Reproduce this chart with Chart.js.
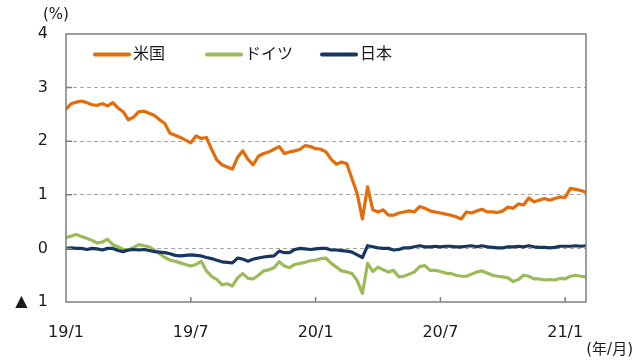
<!DOCTYPE html>
<html>
<head>
<meta charset="utf-8">
<script src="https://cdn.jsdelivr.net/npm/chart.js@4.4.0/dist/chart.umd.min.js"></script>
<style>
  html, body { margin: 0; padding: 0; background: #fff; }
  #wrap { width: 640px; height: 364px; }
</style>
</head>
<body>
<div id="wrap"><canvas id="chartYield"></canvas></div>
<script>
// 10年国債利回り, 2019/1 - 2021/2 (週次で読み取り)
const seriesLabels = ['米国', 'ドイツ', '日本'];
const seriesColors = ['#E46C0A', '#9BBB59', '#17375E'];
const stepMonths = 0.25; // 0 = 19/1
const xTickMonths = [0, 6, 12, 18, 24];
const xTickLabels = ['19/1', '19/7', '20/1', '20/7', '21/1'];
const yTicks = [-1, 0, 1, 2, 3, 4];

const usYield = [
  2.60, 2.70, 2.73, 2.75, 2.72, 2.68, 2.67, 2.70, 2.66, 2.72,
  2.62, 2.55, 2.40, 2.45, 2.55, 2.56, 2.52, 2.48, 2.40, 2.33,
  2.15, 2.11, 2.07, 2.02, 1.97, 2.10, 2.05, 2.07, 1.85, 1.65,
  1.56, 1.52, 1.48, 1.70, 1.82, 1.66, 1.56, 1.72, 1.77, 1.80,
  1.85, 1.90, 1.77, 1.80, 1.82, 1.85, 1.92, 1.90, 1.86, 1.85,
  1.80, 1.66, 1.57, 1.61, 1.58, 1.30, 1.02, 0.55, 1.15, 0.72,
  0.68, 0.72, 0.62, 0.62, 0.66, 0.68, 0.70, 0.68, 0.78, 0.75,
  0.70, 0.68, 0.66, 0.64, 0.62, 0.59, 0.55, 0.68, 0.66, 0.70,
  0.73, 0.68, 0.68, 0.67, 0.70, 0.77, 0.75, 0.83, 0.81, 0.94,
  0.87, 0.90, 0.93, 0.90, 0.93, 0.96, 0.95, 1.12, 1.10, 1.08,
  1.05
];
const deYield = [
  0.20, 0.23, 0.26, 0.22, 0.19, 0.15, 0.10, 0.12, 0.17, 0.07,
  0.03, -0.02, -0.03, 0.02, 0.07, 0.05, 0.03, -0.03, -0.10, -0.17,
  -0.22, -0.24, -0.27, -0.30, -0.33, -0.30, -0.24, -0.42, -0.52, -0.58,
  -0.68, -0.66, -0.70, -0.55, -0.47, -0.56, -0.57, -0.50, -0.42, -0.40,
  -0.36, -0.25, -0.33, -0.36, -0.30, -0.28, -0.26, -0.23, -0.22, -0.19,
  -0.18, -0.28, -0.35, -0.42, -0.44, -0.47, -0.60, -0.84, -0.28, -0.43,
  -0.35, -0.40, -0.44, -0.41, -0.53, -0.52, -0.48, -0.44, -0.34, -0.32,
  -0.41, -0.41, -0.43, -0.46, -0.47, -0.50, -0.52, -0.52, -0.48, -0.44,
  -0.42, -0.46, -0.50, -0.52, -0.53, -0.55, -0.62, -0.58, -0.50, -0.52,
  -0.57, -0.57, -0.59, -0.58, -0.59, -0.56, -0.57, -0.52, -0.50, -0.52,
  -0.53
];
const jpYield = [
  0.00, 0.01, 0.00, 0.00, -0.02, 0.00, -0.01, -0.03, 0.00, 0.00,
  -0.04, -0.06, -0.03, -0.02, -0.03, -0.02, -0.04, -0.06, -0.07, -0.08,
  -0.10, -0.13, -0.14, -0.13, -0.12, -0.13, -0.14, -0.17, -0.19, -0.22,
  -0.25, -0.26, -0.27, -0.18, -0.20, -0.24, -0.20, -0.18, -0.16, -0.15,
  -0.14, -0.05, -0.08, -0.08, -0.02, 0.00, -0.01, -0.02, -0.01, 0.00,
  0.00, -0.03, -0.03, -0.04, -0.05, -0.07, -0.12, -0.17, 0.05, 0.03,
  0.01, 0.00, 0.00, -0.03, -0.02, 0.01, 0.01, 0.03, 0.05, 0.03,
  0.03, 0.04, 0.03, 0.04, 0.04, 0.03, 0.03, 0.04, 0.05, 0.03,
  0.05, 0.03, 0.02, 0.01, 0.01, 0.03, 0.03, 0.04, 0.03, 0.05,
  0.03, 0.02, 0.02, 0.01, 0.02, 0.04, 0.04, 0.04, 0.05, 0.04,
  0.05
];

function toPoints(values) {
  return values.map((v, i) => ({ x: i * stepMonths, y: v }));
}

const fontFamily = '"DejaVu Sans", "Noto Sans CJK JP", sans-serif';

// 枠線・目盛り・凡例・単位を描く
const framePlugin = {
  id: 'frame',
  afterDraw(chart) {
    const ctx = chart.ctx;
    const a = chart.chartArea;
    const xs = chart.scales.x;
    const ys = chart.scales.y;
    ctx.save();
    ctx.strokeStyle = '#7f7f7f';
    ctx.lineWidth = 1.5;
    ctx.strokeRect(a.left, a.top, a.right - a.left, a.bottom - a.top);
    ctx.beginPath();
    xTickMonths.slice(1).forEach(m => {
      const px = xs.getPixelForValue(m);
      ctx.moveTo(px, a.bottom);
      ctx.lineTo(px, a.bottom - 5);
    });
    yTicks.slice(1, -1).forEach(v => {
      const py = ys.getPixelForValue(v);
      ctx.moveTo(a.left, py);
      ctx.lineTo(a.left + 6, py);
    });
    ctx.stroke();

    // 凡例
    const legendX = [95, 207, 322];
    const legendY = 54.5;
    ctx.lineCap = 'round';
    ctx.lineWidth = 4;
    ctx.font = '16px ' + fontFamily;
    ctx.textBaseline = 'middle';
    ctx.textAlign = 'left';
    chart.data.datasets.forEach((ds, i) => {
      ctx.strokeStyle = ds.borderColor;
      ctx.beginPath();
      ctx.moveTo(legendX[i], legendY);
      ctx.lineTo(legendX[i] + 34, legendY);
      ctx.stroke();
      ctx.fillStyle = '#1a1a1a';
      ctx.fillText(ds.label, legendX[i] + 38, legendY);
    });

    ctx.font = '15px ' + fontFamily;
    ctx.fillStyle = '#1a1a1a';
    ctx.textAlign = 'left';
    ctx.fillText('(%)', 43, 15);
    ctx.textAlign = 'right';
    ctx.fillText('(年/月)', 633, 350);
    ctx.restore();
  }
};

const ctxYield = document.getElementById('chartYield');

new Chart(ctxYield, {
  type: 'line',
  data: {
    datasets: [
      { label: seriesLabels[0], data: toPoints(usYield), borderColor: seriesColors[0], order: 0 },
      { label: seriesLabels[1], data: toPoints(deYield), borderColor: seriesColors[1], order: 2 },
      { label: seriesLabels[2], data: toPoints(jpYield), borderColor: seriesColors[2], order: 1 }
    ]
  },
  options: {
    responsive: true,
    maintainAspectRatio: false,
    animation: false,
    layout: { padding: { top: 34, right: 54, left: 0, bottom: 0 } },
    elements: {
      line: { borderWidth: 3.2, tension: 0, borderJoinStyle: 'round', borderCapStyle: 'round' },
      point: { radius: 0 }
    },
    plugins: {
      legend: { display: false },
      tooltip: { enabled: false }
    },
    scales: {
      x: {
        type: 'linear',
        min: 0,
        max: 25,
        afterBuildTicks(scale) {
          scale.ticks = xTickMonths.map(v => ({ value: v }));
        },
        afterFit(scale) { scale.height = 62; },
        border: { display: false },
        grid: { display: false },
        ticks: {
          padding: 13,
          maxRotation: 0,
          autoSkip: false,
          color: '#1a1a1a',
          font: { family: fontFamily, size: 16 },
          callback: (v) => xTickLabels[xTickMonths.indexOf(v)]
        }
      },
      y: {
        min: -1,
        max: 4,
        afterBuildTicks(scale) {
          scale.ticks = yTicks.map(v => ({ value: v }));
        },
        afterFit(scale) { scale.width = 66; },
        border: { display: false, dash: [4, 3] },
        grid: {
          drawTicks: false,
          color: (c) => (c.tick.value > -1 && c.tick.value < 4) ? '#a6a6a6' : 'rgba(0,0,0,0)',
          lineWidth: 1
        },
        ticks: {
          padding: 18,
          color: '#1a1a1a',
          font: { family: fontFamily, size: 16 },
          callback: (v) => v < 0 ? '▲  ' + Math.abs(v) : String(v)
        }
      }
    }
  },
  plugins: [framePlugin]
});
</script>
</body>
</html>
